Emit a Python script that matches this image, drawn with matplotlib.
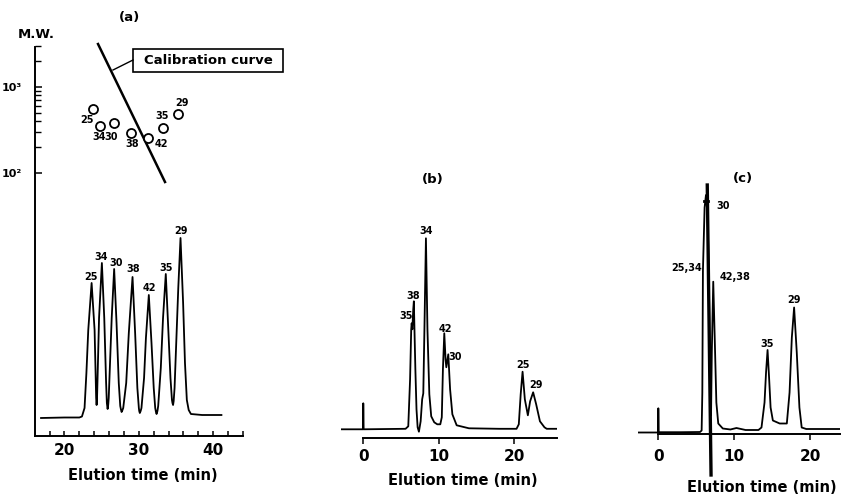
import matplotlib
matplotlib.use('Agg')
import matplotlib.pyplot as plt
from matplotlib.transforms import Affine2D
from matplotlib.patches import Rectangle
from matplotlib.lines import Line2D

plt.rcParams['font.family'] = ['DejaVu Sans']
plt.rcParams['font.weight'] = 'bold'

# ---------------- data ----------------
# (a) chromatogram: elution time (min) and detector signal (arb.)
a_time = [16.85, 20.0, 22.0, 22.35, 22.7, 22.95, 23.2, 23.65, 24.05, 24.2,
          24.26, 24.32, 24.38,
          24.45, 24.65, 25.03, 25.35, 25.6, 25.7, 25.8, 25.88,
          25.95, 26.2, 26.35, 26.68, 27.0, 27.3, 27.5, 27.58, 27.68, 27.8,
          27.9, 28.3, 28.65, 29.15, 29.5, 29.8, 30.0, 30.05, 30.13, 30.24,
          30.35, 30.7, 30.95, 31.34, 31.7, 32.0, 32.2, 32.3, 32.38, 32.5,
          32.6, 32.95, 33.25, 33.62, 33.95, 34.25, 34.45, 34.52, 34.6, 34.68,
          34.8, 35.05, 35.3, 35.6, 35.95, 36.2, 36.45, 36.7, 37.0, 38.5, 41.1]
a_sig = [0, 0.5, 0.5, 1.5, 10, 45, 88, 135, 88, 40,
         20, 13, 20,
         40, 100, 155, 100, 35, 15, 9, 13,
         20, 70, 100, 149, 95, 35, 12, 9, 6, 8,
         10, 35, 85, 141, 85, 30, 10, 7, 5, 7,
         10, 40, 80, 123, 75, 30, 10, 6, 4, 7,
         12, 50, 100, 144, 90, 40, 18, 15, 13, 17,
         30, 80, 130, 180, 115, 55, 18, 8, 4, 3, 3]
a_labels = ['25', '34', '30', '38', '42', '35', '29']
a_label_t = [23.56, 24.99, 27.0, 29.23, 31.38, 33.62, 35.64]
a_label_s = [140.7, 160.7, 154.7, 149, 129.7, 149.7, 187.3]

# (a) calibration: elution time vs molecular weight
cal_t = [23.83, 24.77, 26.64, 28.93, 31.21, 33.22, 35.23]
cal_mw = [555, 352, 380, 292, 255, 333, 485]
cal_lab_t = [22.98, 24.63, 26.3, 29.06, 32.95, 33.13, 35.73]
cal_lab_mw = [413, 264, 264, 216, 216, 460, 646]
curve_t = [24.5, 33.49]
curve_mw = [3160, 78.6]

# (b) chromatogram
b_time = [-2.86, -0.03, 0.0, 0.05, 5.6, 5.96, 6.2, 6.35, 6.41, 6.5, 6.62, 6.7,
          6.78, 6.9, 7.05, 7.2, 7.37, 7.6, 7.8, 7.95, 8.1, 8.3, 8.5, 8.75, 9.0,
          9.4, 9.8, 10.2, 10.4, 10.55, 10.73, 10.9, 11.0, 11.26, 11.5, 11.8,
          12.37, 14, 18, 20.3, 20.6, 20.85, 21.1, 21.4, 21.8, 22.1, 22.5,
          22.9, 23.4, 24.0, 24.3, 25.6]
b_sig = [0, 0, 26, 0, 0.5, 3, 50, 100, 106, 100, 120, 128,
         100, 60, 20, 2, -2.4, 8, 30, 36, 100, 191, 100, 35, 13,
         7, 5, 5, 12, 60, 96, 70, 62, 75, 40, 15,
         4, 1, 0.5, 0.5, 5, 35, 57.6, 30, 14, 28, 37,
         25, 8, 2, 0.5, 0.5]
b_labels = ['35', '38', '34', '42', '30', '25', '29']
b_label_t = [5.66, 6.62, 8.3, 10.82, 12.15, 21.11, 22.87]
b_label_s = [113.3, 133.3, 198.6, 100.3, 72.6, 64.3, 44.3]

# (c) chromatogram
c_time = [-2.68, -0.03, 0.0, 0.05, 3.0, 5.5, 5.71, 5.8, 5.88, 6.1, 6.28,
          6.5, 6.65, 6.78, 6.88, 6.95, 7.05, 7.24, 7.45, 7.65, 7.9, 8.5, 9.5,
          10.3, 11.5, 13.2, 13.6, 14.0, 14.2, 14.4, 14.6, 14.8, 15.1, 16.0, 16.94,
          17.3, 17.6, 17.9, 18.25, 18.6, 18.9, 19.5, 23.9]
c_sig = [0, 0, 24.2, 0.3, 0.3, 0.5, 2, 40, 162, 225, 237.5,
         215, 160, 80, 25, 17, 80, 150.8, 90, 30, 9, 4, 3,
         4.5, 2.5, 2.5, 5, 30, 60, 82.5, 55, 25, 12, 9, 9,
         40, 95, 125, 80, 25, 5, 3.5, 3.5]
c_labels = ['30', '25,34', '42,38', '35', '29']
c_label_t = [8.53, 5.72, 10.11, 14.29, 17.89]
c_label_s = [226.5, 164.5, 155.5, 88.5, 132.5]
c_label_ha = ['center', 'right', 'center', 'center', 'center']
c_marker_t = [6.45, 6.95]
c_marker_s = [247.5, -42.5]

# ---------------- figure ----------------
W, H = 841, 494
fig = plt.figure(figsize=(W / 100, H / 100), dpi=100)
PX = Affine2D().scale(1.0 / W, -1.0 / H).translate(0, 1) + fig.transFigure


def ax_px(x0, y0, x1, y1):
    return fig.add_axes([x0 / W, 1 - y1 / H, (x1 - x0) / W, (y1 - y0) / H])


LW = 1.3
FS_LAB = 10.5
FS_PK = 7

# ---- panel (a) ----
axa = ax_px(35, 47, 243, 436)
axa.plot(a_time, a_sig, color='black', lw=LW)
axa.set_xlim(16.04, 43.96)
axa.set_ylim(-18, 371)
for s in ['top', 'right']:
    axa.spines[s].set_visible(False)
for s in ['left', 'bottom']:
    axa.spines[s].set_linewidth(1.4)
axa.set_yticks([])
axa.set_xticks([20, 30, 40])
axa.set_xticks(list(range(18, 45, 2)), minor=True)
axa.tick_params(axis='x', which='both', direction='in', length=3.5, width=1.1,
                pad=5, labelsize=11)
for lab, t, s in zip(a_labels, a_label_t, a_label_s):
    axa.text(t, s, lab, ha='center', va='center', fontsize=FS_PK)

axc_cal = ax_px(35, 40, 243, 200)
axc_cal.patch.set_alpha(0)
axc_cal.set_yscale('log')
axc_cal.set_xlim(16.04, 43.96)
axc_cal.set_ylim(10 ** (2 - 27 / 86), 10 ** (2 + 133 / 86))
for s in axc_cal.spines.values():
    s.set_visible(False)
axc_cal.set_xticks([])
axc_cal.set_yticks([100, 1000])
axc_cal.set_yticklabels(['10²', '10³'])
axc_cal.set_yticks([200, 300, 400, 500, 600, 700, 800, 900, 2000, 3000],
                   minor=True)
axc_cal.yaxis.set_minor_formatter(plt.NullFormatter())
axc_cal.tick_params(axis='y', which='major', direction='in', length=5,
                    width=1.1, pad=9.5, labelsize=8)
axc_cal.tick_params(axis='y', which='minor', direction='in', length=4,
                    width=1.0)
axc_cal.plot(curve_t, curve_mw, color='black', lw=1.8)
axc_cal.plot(cal_t, cal_mw, 'o', ms=6.5, mfc='white', mec='black', mew=1.3)
for lab, t, m in zip(a_labels, cal_lab_t, cal_lab_mw):
    axc_cal.text(t, m, lab, ha='center', va='center', fontsize=FS_PK)

fig.text(36, 35, 'M.W.', transform=PX, ha='center', va='center', fontsize=9.5)
fig.text(130, 18, '(a)', transform=PX, ha='center', va='center', fontsize=9.5)
fig.text(143, 475, 'Elution time (min)', transform=PX, ha='center',
         va='center', fontsize=FS_LAB)
fig.patches.append(Rectangle((133, 49), 150, 23, transform=PX, fill=False,
                             edgecolor='black', lw=1.2))
fig.text(208, 61, 'Calibration curve', transform=PX, ha='center',
         va='center', fontsize=9.5)
fig.lines.append(Line2D([113, 133], [70, 60], transform=PX, color='black',
                        lw=1.0))

# ---- panel (b) ----
axb = ax_px(341, 230, 557, 438.3)
axb.plot(b_time, b_sig, color='black', lw=LW)
axb.set_xlim(-2.95, 25.66)
axb.set_ylim(-9, 199.3)
for s in ['top', 'right', 'left']:
    axb.spines[s].set_visible(False)
axb.spines['bottom'].set_linewidth(1.4)
axb.spines['bottom'].set_bounds(0, 25.66)
axb.set_yticks([])
axb.set_xticks([0, 10, 20])
axb.tick_params(axis='x', direction='out', length=4, width=1.1, pad=3.5,
                labelsize=11)
for lab, t, s in zip(b_labels, b_label_t, b_label_s):
    axb.text(t, s, lab, ha='center', va='center', fontsize=FS_PK)
fig.text(433, 179, '(b)', transform=PX, ha='center', va='center', fontsize=9.5)
fig.text(463, 480, 'Elution time (min)', transform=PX, ha='center',
         va='center', fontsize=FS_LAB)

# ---- panel (c) ----
axcc = ax_px(638, 180, 840, 434)
axcc.plot(c_time, c_sig, color='black', lw=LW)
axcc.plot(c_marker_t, c_marker_s, color='black', lw=2.4, clip_on=False)
axcc.plot([6.0, 6.6], [232, 232], color='black', lw=2.0)
axcc.set_xlim(-2.68, 23.95)
axcc.set_ylim(-1.5, 252.5)
for s in ['top', 'right', 'left']:
    axcc.spines[s].set_visible(False)
axcc.spines['bottom'].set_linewidth(1.4)
axcc.spines['bottom'].set_bounds(0, 23.95)
axcc.set_yticks([])
axcc.set_xticks([0, 10, 20])
axcc.tick_params(axis='x', direction='out', length=4, width=1.1, pad=7,
                 labelsize=11)
for lab, t, s, ha in zip(c_labels, c_label_t, c_label_s, c_label_ha):
    axcc.text(t, s, lab, ha=ha, va='center', fontsize=FS_PK)
fig.text(743, 178, '(c)', transform=PX, ha='center', va='center', fontsize=9.5)
fig.text(762, 487, 'Elution time (min)', transform=PX, ha='center',
         va='center', fontsize=FS_LAB)

fig.savefig('out.png', dpi=100)
